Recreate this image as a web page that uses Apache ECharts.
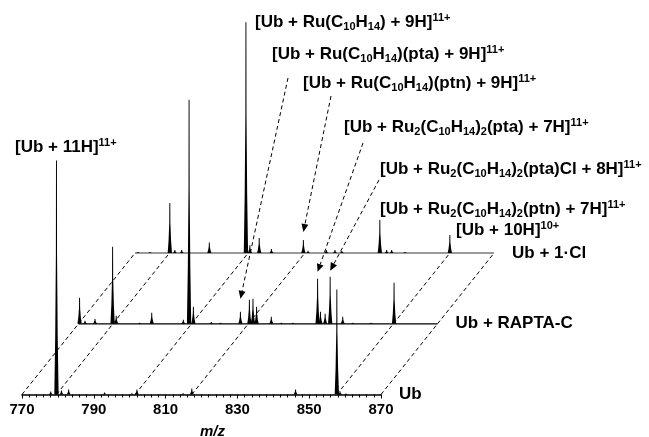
<!DOCTYPE html>
<html>
<head>
<meta charset="utf-8">
<script src="https://cdn.jsdelivr.net/npm/echarts@6/dist/echarts.min.js"></script>
<style>
  html, body { margin: 0; padding: 0; background: #fff; }
  #chart { width: 649px; height: 437px; }
</style>
</head>
<body>
<div id="chart"></div>
<script>
// peak m/z and relative intensity (%) for each spectrum
const ubMz = [778.0, 779.6, 781.0, 783.0, 793.0, 800.6, 802.0, 814.9, 817.3, 846.2, 857.7, 858.6, 860.2];
const ubInt = [1.3, 100, 1.7, 2.1, 0.9, 0.5, 2.1, 0.5, 2.6, 2.1, 44.9, 1.3, 0.4];

const raptaMz = [770.3, 771.8, 774.6, 779.5, 780.5, 787.0, 790.4, 799.2, 800.8, 802.0, 807.0, 809.5,
  815.1, 817.6, 818.6, 819.6, 823.7, 826.5, 829.7, 836.6, 837.4, 838.7, 840.1, 843.6, 846.4, 851.5, 857.9];
const raptaInt = [11.1, 1.3, 2.1, 32.9, 3.4, 0.5, 4.7, 1.7, 95.7, 7.3, 0.8, 0.5,
  5.1, 10.3, 10.7, 7.3, 3.0, 0.5, 0.5, 19.2, 5.1, 4.3, 20.1, 3.0, 0.5, 0.5, 17.5];

const clMz = [770.8, 774.2, 779.7, 781.1, 783.0, 790.7, 800.9, 802.0, 804.6, 808.0, 816.9, 818.2,
  823.3, 825.7, 827.6, 838.2, 840.1, 841.5, 845.2, 857.7];
const clInt = [0.4, 0.4, 21.4, 1.3, 1.3, 4.5, 98.7, 3.4, 6.4, 1.7, 5.6, 1.0,
  1.3, 1.3, 0.9, 14.1, 1.3, 1.3, 0.5, 7.7];

const layerNames = ['Ub', 'Ub + RAPTA-C', 'Ub + 1·Cl'];
// m/z positions joined by dashed guide lines between neighbouring spectra
const guideMz = [770, 779.6, 801.5, 817.3, 857.7, 870];
const xTicks = [770, 790, 810, 830, 850, 870];

// arrows: target peak (m/z, spectrum) and the label the arrow starts from
const arrowMz = [815.1, 816.9, 836.6, 840.1];
const arrowLayer = [1, 2, 1, 1];
const arrowInt = [5.1, 5.6, 19.2, 20.1];

const FONT = '"Liberation Sans", Arial, sans-serif';
const DX = 56.5, DY = -70.7;   // pixel shift from one spectrum to the next one back
const arrowStart = [[288, 78], [331, 96], [363, 143], [379, 180]];
const arrowGap = [13, 8, 7, 6];

const chart = echarts.init(document.getElementById('chart'));

function shifted(api, p, k) {
  const c = api.coord(p);
  return [c[0] + k * DX, c[1] + k * DY];
}

function peakItem(params, api) {
  const m = api.value(0), v = api.value(1), k = api.value(2);
  const pts = [[m - 0.6, 0], [m - 0.35, v * 0.25], [m - 0.16, v * 0.6], [m - 0.13, v],
    [m + 0.13, v], [m + 0.16, v * 0.6], [m + 0.35, v * 0.25], [m + 0.6, 0]]
    .map(p => shifted(api, p, k));
  return { type: 'polygon', shape: { points: pts }, style: { fill: '#000' } };
}

function baseItem(params, api) {
  const k = api.value(0);
  const a = shifted(api, [770, 0], k), b = shifted(api, [870, 0], k);
  const children = [
    { type: 'text', x: b[0] + 18, y: b[1],
      style: { text: layerNames[k], font: 'bold 17px ' + FONT, fill: '#000', verticalAlign: 'middle' } }
  ];
  if (k > 0) {
    children.push({ type: 'line', shape: { x1: a[0], y1: a[1], x2: b[0], y2: b[1] },
      style: { stroke: k === 2 ? '#9a9a9a' : '#000', lineWidth: k === 2 ? 2 : 1.2 } });
  }
  return { type: 'group', children: children };
}

function guideItem(params, api) {
  const m = api.value(0), k = api.value(1);
  const a = shifted(api, [m, 0], k), b = shifted(api, [m, 0], k + 1);
  return { type: 'line', shape: { x1: a[0], y1: a[1], x2: b[0], y2: b[1] },
    style: { stroke: '#000', lineWidth: 1, lineDash: [4, 3] } };
}

function arrowItem(params, api) {
  const i = params.dataIndex;
  const top = shifted(api, [api.value(0), api.value(1)], api.value(2));
  const s = arrowStart[i];
  const tip = [top[0], top[1] - arrowGap[i]];
  const dx = tip[0] - s[0], dy = tip[1] - s[1], len = Math.hypot(dx, dy);
  const ux = dx / len, uy = dy / len;
  const hl = 8, hw = 3.5;
  const bx = tip[0] - ux * hl, by = tip[1] - uy * hl;
  return {
    type: 'group',
    children: [
      { type: 'line', shape: { x1: s[0], y1: s[1], x2: bx, y2: by },
        style: { stroke: '#000', lineWidth: 1, lineDash: [4, 3] } },
      { type: 'polygon', shape: { points: [tip, [bx - uy * hw, by + ux * hw], [bx + uy * hw, by - ux * hw]] },
        style: { fill: '#000' } }
    ]
  };
}

const peakData = [];
clMz.forEach((m, i) => peakData.push([m, clInt[i], 2]));
raptaMz.forEach((m, i) => peakData.push([m, raptaInt[i], 1]));
ubMz.forEach((m, i) => peakData.push([m, ubInt[i], 0]));

const guideData = [];
[0, 1].forEach(k => guideMz.forEach(m => guideData.push([m, k])));

const rich = {
  n: { fontSize: 17, fontWeight: 'bold', fontFamily: FONT, lineHeight: 20, verticalAlign: 'middle', color: '#000' },
  s: { fontSize: 11, fontWeight: 'bold', fontFamily: FONT, lineHeight: 11, verticalAlign: 'bottom', color: '#000' },
  p: { fontSize: 11, fontWeight: 'bold', fontFamily: FONT, lineHeight: 11, verticalAlign: 'top', color: '#000' }
};
const ru2 = '{n|[Ub + Ru}{s|2}{n|(C}{s|10}{n|H}{s|14}{n|)}{s|2}';
const labels = [
  ['{n|[Ub + Ru(C}{s|10}{n|H}{s|14}{n|) + 9H]}{p|11+}', 255, 22],
  ['{n|[Ub + Ru(C}{s|10}{n|H}{s|14}{n|)(pta) + 9H]}{p|11+}', 272, 54],
  ['{n|[Ub + Ru(C}{s|10}{n|H}{s|14}{n|)(ptn) + 9H]}{p|11+}', 303, 83],
  [ru2 + '{n|(pta) + 7H]}{p|11+}', 344, 127],
  [ru2 + '{n|(pta)Cl + 8H]}{p|11+}', 380, 169],
  [ru2 + '{n|(ptn) + 7H]}{p|11+}', 380, 209],
  ['{n|[Ub + 10H]}{p|10+}', 456, 230],
  ['{n|[Ub + 11H]}{p|11+}', 15, 147]
];

chart.setOption({
  animation: false,
  backgroundColor: '#fff',
  grid: { left: 22, right: 268, top: 160.5, bottom: 42.5, outerBoundsMode: 'none', containLabel: false },
  xAxis: {
    type: 'value', min: 770, max: 870, interval: 20,
    name: 'm/z', nameLocation: 'middle', nameGap: 30,
    nameTextStyle: { fontSize: 15, fontWeight: 'bold', fontStyle: 'italic', fontFamily: FONT, color: '#000', padding: [0, 0, 0, 22] },
    axisLine: { lineStyle: { color: '#000', width: 1.5 } },
    axisTick: { length: 4, lineStyle: { color: '#000' } },
    minorTick: { show: true, splitNumber: 10, length: 3, lineStyle: { color: '#000' } },
    splitLine: { show: false },
    axisLabel: { margin: 8, fontSize: 15, fontWeight: 'bold', fontFamily: FONT, color: '#000',
      formatter: v => xTicks.includes(v) ? String(v) : '' }
  },
  yAxis: { type: 'value', min: 0, max: 100, show: false },
  series: [
    { type: 'custom', renderItem: guideItem, data: guideData, clip: false, silent: true, z: 1 },
    { type: 'custom', renderItem: baseItem, data: [[0], [1], [2]], clip: false, silent: true, z: 2 },
    { type: 'custom', renderItem: peakItem, data: peakData, clip: false, silent: true, z: 3 },
    { type: 'custom', renderItem: arrowItem, clip: false, silent: true, z: 4,
      data: arrowMz.map((m, i) => [m, arrowInt[i], arrowLayer[i]]) }
  ],
  graphic: labels.map(l => ({
    type: 'text', left: l[1], top: l[2] - 10,
    style: { text: l[0], rich: rich, fill: '#000' }
  }))
});
</script>
</body>
</html>
